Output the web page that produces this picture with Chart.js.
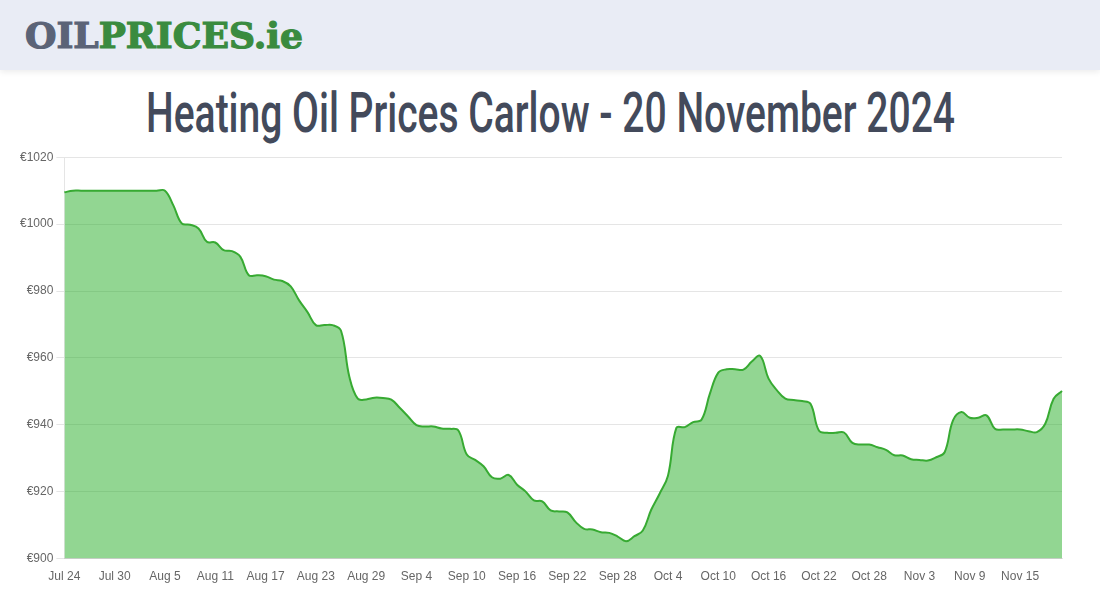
<!DOCTYPE html>
<html>
<head>
<meta charset="utf-8">
<script src="https://cdn.jsdelivr.net/npm/chart.js@4"></script>
<style>
  body { margin: 0; width: 1100px; height: 600px; background: #fff; overflow: hidden; font-family: "Liberation Sans", Arial, sans-serif; }
  .topbar { position: absolute; left: 0; top: 0; width: 1100px; height: 70px; background: #e9ecf5; box-shadow: 0 2px 6px rgba(0,0,0,0.08); }
  .logo { position: absolute; left: 25px; top: 13px; font-family: "DejaVu Serif", serif; font-weight: bold; font-size: 36px; line-height: 44px; -webkit-text-stroke: 1.2px; transform-origin: 0 0; white-space: nowrap; }
  .logo .oil { color: #5b6377; }
  .logo .rest { color: #3a8b3f; }
  .title { position: absolute; left: 146px; top: 80px; margin: 0; font-family: Roboto, "DejaVu Sans", sans-serif; font-weight: 500; font-size: 56px; line-height: 66px; color: #434a5b; transform-origin: 0 0; white-space: nowrap; }
  .wrap { position: absolute; left: 0; top: 147px; width: 1065px; height: 452px; }
</style>
</head>
<body>
<div class="topbar"><div class="logo" data-w="278"><span class="oil">OIL</span><span class="rest">PRICES.ie</span></div></div>
<div class="title" data-w="809">Heating Oil Prices Carlow - 20 November 2024</div>
<div class="wrap"><canvas id="myChart"></canvas></div>
<script>
// squeeze header texts to the widths seen in the picture
document.querySelectorAll('[data-w]').forEach(el => {
    const w = el.getBoundingClientRect().width
    el.style.transform = 'scaleX(' + (el.dataset.w / w) + ')'
})

// daily prices, 24 Jul -> 20 Nov 2024
const startDate = new Date(2024, 6, 24)
const months = ['Jan', 'Feb', 'Mar', 'Apr', 'May', 'Jun', 'Jul', 'Aug', 'Sep', 'Oct', 'Nov', 'Dec']

const prices = [
    1009.5, 1010, 1010, 1010, 1010, 1010, 1010, 1010, 1010, 1010, 1010, 1010, 1010, 1005.6, 1000.2,
    999.8, 998.7, 994.7, 994.5, 992.2, 991.9, 990.2, 984.7, 984.7, 984.4, 983.4, 983, 981.4, 977.2, 973.7,
    969.8, 969.8, 969.8, 968.1, 954.3, 947.8, 947.6, 948.1, 948, 947.5, 945.1, 942.5, 939.9, 939.5, 939.5,
    938.9, 938.8, 938.3, 931.1, 929.5, 927.6, 924.3, 923.9, 925, 922.1, 920.1, 917.4, 917.1, 914.4, 914.1,
    913.8, 910.9, 908.9, 908.7, 907.9, 907.7, 906.6, 905.2, 906.7, 908.4, 914.6, 919.4, 924.8, 939.1, 939.3,
    940.8, 941.5, 949.3, 955.6, 956.6, 956.6, 956.5, 958.9, 960.6, 953.8, 950.3, 947.8, 947.4, 947.1, 946.3,
    938.3, 937.6, 937.6, 937.7, 934.6, 934.1, 934.1, 933.3, 932.5, 930.9, 930.8, 929.7, 929.5, 929.3, 930.3,
    931.8, 941.3, 943.8, 942.1, 942.1, 942.8, 938.8, 938.6, 938.6, 938.6, 938.1, 937.8, 940.3, 947.8, 950.1
]

const labels = prices.map((p, i) => {
    const d = new Date(startDate.getTime() + i * 86400000)
    return months[d.getMonth()] + ' ' + d.getDate()
})

const yMin = 900
const yMax = 1020
const yStep = 20

const ctx = document.getElementById('myChart')

new Chart(ctx, {
    type: 'line',
    data: {
        labels: labels,
        datasets: [
            {
                label: 'Price',
                data: prices,
                borderWidth: 2,
                borderColor: 'rgb(55,170,50)',
                backgroundColor: 'rgba(37,173,37,0.5)',
                fill: 'origin',
                tension: 0.4,
                pointRadius: 0
            }
        ]
    },
    options: {
        responsive: true,
        maintainAspectRatio: false,
        animation: false,
        layout: { padding: { left: 17, top: 5, right: 0, bottom: 12 } },
        plugins: { legend: { display: false }, tooltip: { enabled: false } },
        scales: {
            x: {
                grid: { display: false },
                ticks: {
                    autoSkip: false,
                    maxRotation: 0,
                    color: '#666',
                    font: { family: 'Liberation Sans', size: 12 },
                    callback: function (v, i) { return i % 6 === 0 ? labels[i] : '' }
                }
            },
            y: {
                min: yMin,
                max: yMax,
                grid: { color: 'rgba(0,0,0,0.1)' },
                ticks: {
                    stepSize: yStep,
                    color: '#666',
                    font: { family: 'Liberation Sans', size: 12 },
                    callback: v => '€' + v
                }
            }
        }
    }
})
</script>
</body>
</html>
